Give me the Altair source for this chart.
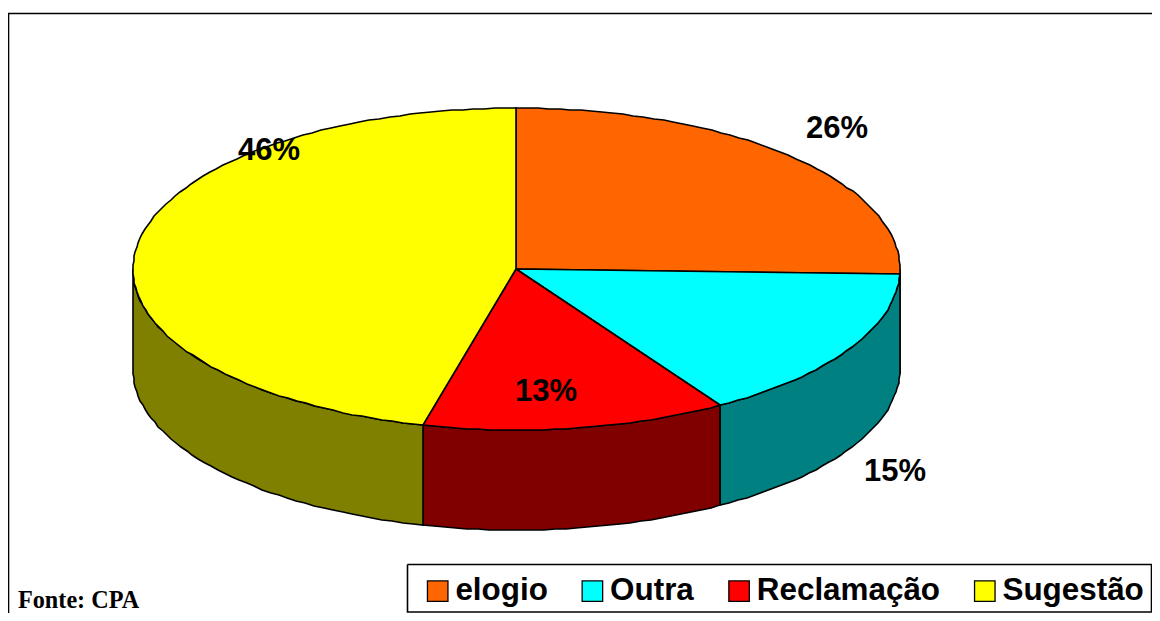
import math
import altair as alt
import pandas as pd

# --- data -----------------------------------------------------------------
categories = ["elogio", "Outra", "Reclamação", "Sugestão"]
shares = [25.5, 15.6, 12.8, 46.1]
labels = ["26%", "15%", "13%", "46%"]
source_note = "Fonte: CPA"

# --- styles ----------------------------------------------------------------
top_colors = ["#ff6600", "#00ffff", "#ff0000", "#ffff00"]
side_colors = ["#803300", "#008080", "#800000", "#808000"]

# --- layout (page pixels; page margin is 8) ---------------------------------
M = 8
W, H = 1144, 605
CX, CY, RX, RY, DEPTH = 516.5 - M, 269 - M, 383.5, 161, 100
STEP = 1.6  # degrees per outline vertex
label_x = [837 - M, 895 - M, 546 - M, 269 - M]
label_y = [138 - M, 481 - M, 401 - M, 160 - M]
FONT = "Liberation Sans"
BOX_L, BOX_R, BOX_T, BOX_B = 407.5 - M, 1151.5 - M, 564.5 - M, 612 - M


def pt(deg, dy=0.0):
    t = math.radians(deg)
    return [round(CX + RX * math.sin(t)), round(CY - RY * math.cos(t) + dy)]


def arc(a, b):
    n = max(1, int(abs(b - a) / STEP))
    return [a + (b - a) * i / n for i in range(n + 1)]


def feature(coords, name=""):
    return {"type": "Feature", "properties": {"name": name},
            "geometry": {"type": "Polygon", "coordinates": [coords]}}


def line_feature(coords):
    return {"type": "Feature", "properties": {},
            "geometry": {"type": "LineString", "coordinates": coords}}


def geo(features):
    return alt.InlineData(values={"type": "FeatureCollection", "features": features},
                          format=alt.DataFormat(type="json", property="features"))


proj = alt.Projection(type="identity", scale=1, translate=[0, 0])

bounds = [0.0]
for s in shares:
    bounds.append(bounds[-1] + s * 3.6 * 100 / sum(shares))

tops, sides = [], []
for i, name in enumerate(categories):
    a, b = bounds[i], bounds[i + 1]
    ring = [[round(CX), round(CY)]] + [pt(d) for d in arc(a, b)] + [[round(CX), round(CY)]]
    tops.append(feature(ring, name))
    fa, fb = max(a, 90), min(b, 270)
    if fb > fa:
        upper = [pt(d) for d in arc(fa, fb)]
        lower = [pt(d, DEPTH) for d in arc(fb, fa)]
        sides.append((side_colors[i], feature(upper + lower + [upper[0]], name)))

layers = []

# frame: top and left edges, open at right and bottom
layers.append(
    alt.Chart(geo([line_feature([[0.5, H], [0.5, 5.5], [W, 5.5]])]))
    .mark_geoshape(filled=False, stroke="black", strokeWidth=1.6)
    .project(**proj.to_dict())
)

# cylinder wall
for color, f in sides:
    layers.append(
        alt.Chart(geo([f]))
        .mark_geoshape(fill=color, stroke="black", strokeWidth=1.6)
        .project(**proj.to_dict())
    )

# top face; this layer also yields the legend
layers.append(
    alt.Chart(geo(tops))
    .mark_geoshape(stroke="black", strokeWidth=1.6)
    .encode(
        fill=alt.Fill(
            "properties.name:N",
            scale=alt.Scale(domain=categories, range=top_colors),
            legend=alt.Legend(
                title=None, orient="none", legendX=422 - M, legendY=575 - M,
                direction="horizontal", columns=4, columnPadding=28.7, padding=0,
                symbolType="square", symbolSize=420, symbolStrokeColor="black",
                symbolStrokeWidth=1.3, symbolOpacity=1, labelOffset=2,
                labelFont=FONT, labelFontWeight="bold", labelFontSize=31.4,
                labelColor="black", labelLimit=400,
            ),
        )
    )
    .project(**proj.to_dict())
)

# legend box
box = [[BOX_L, BOX_T], [BOX_R, BOX_T], [BOX_R, BOX_B], [BOX_L, BOX_B], [BOX_L, BOX_T]]
layers.append(
    alt.Chart(geo([line_feature(box)]))
    .mark_geoshape(filled=False, stroke="black", strokeWidth=1.6)
    .project(**proj.to_dict())
)

# percentage labels
df = pd.DataFrame({"label": labels, "px": label_x, "py": label_y})
layers.append(
    alt.Chart(df)
    .mark_text(font=FONT, fontWeight="bold", fontSize=31, color="black",
               align="center", baseline="alphabetic")
    .encode(
        x=alt.X("px:Q", scale=None, axis=None),
        y=alt.Y("py:Q", scale=None, axis=None),
        text="label:N",
    )
)

# source note
note = pd.DataFrame({"label": [source_note], "px": [18 - M], "py": [608 - M]})
layers.append(
    alt.Chart(note)
    .mark_text(font="Liberation Serif", fontWeight="bold", fontSize=24.2, color="black",
               align="left", baseline="alphabetic")
    .encode(
        x=alt.X("px:Q", scale=None, axis=None),
        y=alt.Y("py:Q", scale=None, axis=None),
        text="label:N",
    )
)

chart = (
    alt.layer(*layers)
    .properties(width=W, height=H, padding=0, autosize=alt.AutoSizeParams(type="none"),
                background="white")
    .configure_view(stroke=None)
)

chart.save("out.html", embed_options={"renderer": "svg", "actions": False})
